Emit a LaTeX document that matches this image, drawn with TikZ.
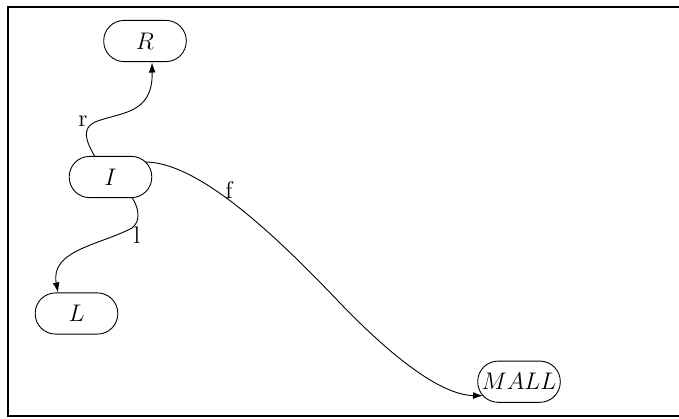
\documentclass[tikz,border=0pt]{standalone}
\usetikzlibrary{arrows.meta,calc}
\begin{document}
\begin{tikzpicture}[x=0.5pt,y=-0.5pt,
  st/.style={draw,line width=0.45pt,rounded corners=10.2pt,minimum width=41.3pt,minimum height=20.6pt,inner sep=0pt,font=\large},
  edge/.style={line width=0.45pt,-{Latex[length=5pt,width=3.4pt]}},
  lbl/.style={inner sep=0pt,font=\large}]
\useasboundingbox (0,0) rectangle (679,418);
\clip (0,0) rectangle (679,418);
\draw[line width=1pt] (8.3,6.7) rectangle (700,415.5);
\node[st] (R) at (145,41) {$R$};
\node[st] (I) at (110.5,177) {$I$};
\node[st] (L) at (76.5,313.5) {$L$};
\node[st] (M) at (519,381.7) {$MALL$};
\draw[edge] ($(I.center)+(-15.5,-20.3)$) .. controls (85,140) and (82,128) .. (95,122)
  .. controls (120,112) and (153,115) .. ($(R.center)+(7,21.5)$);
\draw[edge] ($(I.center)+(34.5,-15)$) .. controls (200,162) and (280,240) .. (340,303)
  .. controls (390,355) and (440,395) .. ($(M.center)+(-36,14)$);
\draw[edge] ($(I.center)+(21.5,20.3)$) .. controls (140,210) and (140,222) .. (132,228)
  .. controls (100,245) and (50,250) .. ($(L.center)+(-18.5,-21)$);
\node[lbl] (lr) at (83,121) {r};
\node[lbl] (lf) at (229,190) {f};
\node[lbl] (ll) at (137,235) {l};
\end{tikzpicture}
\end{document}
